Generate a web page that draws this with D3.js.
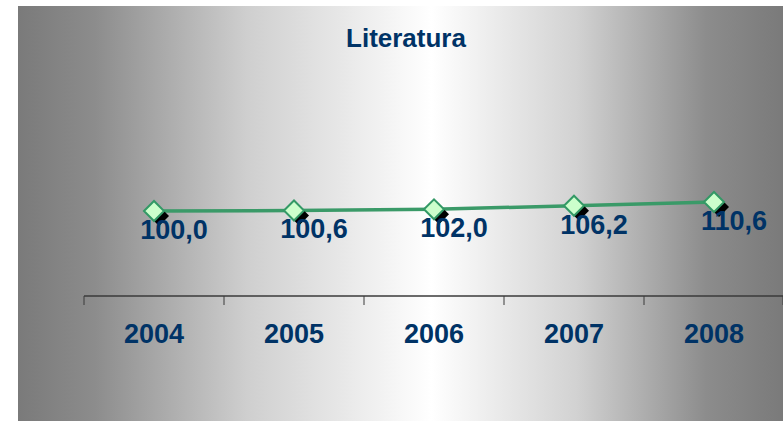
<!DOCTYPE html>
<meta charset="utf-8">
<head>
    <script src="https://d3js.org/d3.v7.min.js"></script>
    <style>
    body { margin: 0; background-color: white; }
    .title { font-family: Arial, "Liberation Sans", sans-serif; font-weight: bold; font-size: 26px; fill: #003366; }
    .yearLabel { font-family: Arial, "Liberation Sans", sans-serif; font-weight: bold; font-size: 27px; fill: #003366; }
    .valueLabel { font-family: Arial, "Liberation Sans", sans-serif; font-weight: bold; font-size: 27px; fill: #003366; }
    .line { fill: none; stroke: #3a9a68; stroke-width: 3.5px; }
    </style>
</head>
<body>
<svg id="chart"></svg>
<script>

// chart data
var years = ["2004", "2005", "2006", "2007", "2008"];
var values = [100.0, 100.6, 102.0, 106.2, 110.6];
var title = "Literatura";

var width = 783, height = 421;

var svg = d3.select("#chart")
    .attr("width", width)
    .attr("height", height);

// background gradient like the excel chart area
var grad = svg.append("defs").append("linearGradient")
    .attr("id", "bg")
    .attr("x1", "0%").attr("x2", "100%")
    .attr("y1", "0%").attr("y2", "0%");
grad.append("stop").attr("offset", "0%").attr("stop-color", "#7a7a7a");
grad.append("stop").attr("offset", "10%").attr("stop-color", "#8c8c8c");
grad.append("stop").attr("offset", "30%").attr("stop-color", "#cfcfcf");
grad.append("stop").attr("offset", "54%").attr("stop-color", "#ffffff");
grad.append("stop").attr("offset", "73%").attr("stop-color", "#d2d2d2");
grad.append("stop").attr("offset", "90%").attr("stop-color", "#8c8c8c");
grad.append("stop").attr("offset", "100%").attr("stop-color", "#7a7a7a");

svg.append("rect")
    .attr("x", 18).attr("y", 6)
    .attr("width", width - 18).attr("height", height - 6)
    .attr("fill", "url(#bg)");

// title
svg.append("text")
    .attr("class", "title")
    .attr("x", 406)
    .attr("y", 47)
    .attr("text-anchor", "middle")
    .text(title);

// scales
var x = d3.scaleBand().domain(years).range([84, 784]).padding(0);
var y = d3.scaleLinear().domain([0, 280]).range([296, 58]);

// x axis: line with ticks between categories
var axisY = y(0);
svg.append("line")
    .attr("x1", x.range()[0]).attr("x2", x.range()[1])
    .attr("y1", axisY).attr("y2", axisY)
    .style("stroke", "#3a3a3a")
    .style("stroke-width", "1.5px");

var tickPos = years.map(function(d) { return x(d); }).concat([x.range()[1] - 1]);
svg.selectAll(".tick")
    .data(tickPos)
    .enter().append("line")
    .attr("x1", function(d) { return d; })
    .attr("x2", function(d) { return d; })
    .attr("y1", axisY)
    .attr("y2", axisY + 9)
    .style("stroke", "#3a3a3a")
    .style("stroke-width", "1px");

svg.selectAll(".yearLabel")
    .data(years)
    .enter().append("text")
    .attr("class", "yearLabel")
    .attr("x", function(d) { return x(d) + x.bandwidth() / 2; })
    .attr("y", 343)
    .attr("text-anchor", "middle")
    .text(function(d) { return d; });

var data = years.map(function(d, i) { return {year: d, value: values[i]}; });
var cx = function(d) { return x(d.year) + x.bandwidth() / 2; };

// the line
svg.append("path")
    .datum(data)
    .attr("class", "line")
    .attr("d", d3.line()
        .x(cx)
        .y(function(d) { return y(d.value); })
    );

// diamond markers with a black shadow
var diamond = function(px, py, r) {
    return "M" + (px - r) + "," + py + "L" + px + "," + (py - r) +
           "L" + (px + r) + "," + py + "L" + px + "," + (py + r) + "Z";
};

svg.selectAll(".shadow")
    .data(data)
    .enter().append("path")
    .attr("d", function(d) { return diamond(cx(d) + 5, y(d.value) + 5, 10); })
    .attr("fill", "#000");

svg.selectAll(".marker")
    .data(data)
    .enter().append("path")
    .attr("d", function(d) { return diamond(cx(d), y(d.value), 10); })
    .attr("fill", "#ccffcc")
    .attr("stroke", "#339966")
    .attr("stroke-width", 2);

// value labels, decimal comma
var fmt = d3.formatLocale({decimal: ",", thousands: ".", grouping: [3], currency: ["", ""]}).format(".1f");
svg.selectAll(".valueLabel")
    .data(data)
    .enter().append("text")
    .attr("class", "valueLabel")
    .attr("x", function(d) { return cx(d) + 20; })
    .attr("y", function(d) { return y(d.value) + 28; })
    .attr("text-anchor", "middle")
    .text(function(d) { return fmt(d.value); });

</script>
</body>
